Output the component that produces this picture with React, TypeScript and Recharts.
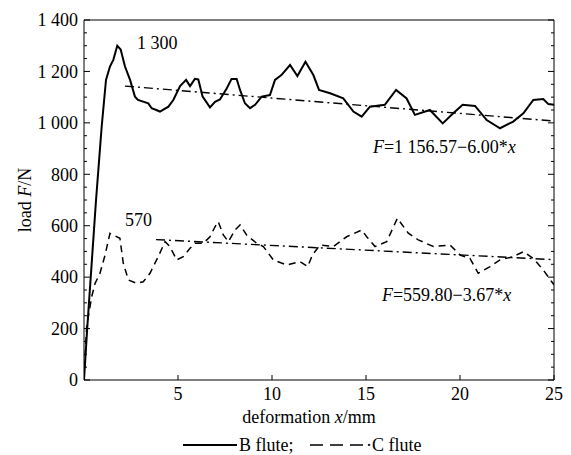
import React from "react";
import { LineChart, Line, XAxis, YAxis, ReferenceDot, Label } from "recharts";

// ── Fonts / sizes ─────────────────────────────────────────────────────────────
const FONT = "'Liberation Serif', 'Times New Roman', serif";
const FS = 18;

// ── Axis ticks ────────────────────────────────────────────────────────────────
const xTicks = [5, 10, 15, 20, 25];
const yTicks = Array.from({ length: 29 }, (_, i) => i * 50);

// ── Series ────────────────────────────────────────────────────────────────────
const bFlute = [
  { x: 0, load: 0 }, { x: 0.17, load: 200 }, { x: 0.64, load: 700 }, { x: 0.94, load: 985 },
  { x: 1.17, load: 1167 }, { x: 1.38, load: 1219 }, { x: 1.56, load: 1245 }, { x: 1.77, load: 1300 },
  { x: 1.95, load: 1285 }, { x: 2.18, load: 1219 }, { x: 2.45, load: 1167 }, { x: 2.71, load: 1102 },
  { x: 2.87, load: 1089 }, { x: 3.42, load: 1076 }, { x: 3.6, load: 1057 }, { x: 4.04, load: 1044 },
  { x: 4.49, load: 1063 }, { x: 4.75, load: 1089 }, { x: 5.11, load: 1143 }, { x: 5.43, load: 1167 },
  { x: 5.64, load: 1143 }, { x: 5.9, load: 1171 }, { x: 6.08, load: 1169 }, { x: 6.31, load: 1102 },
  { x: 6.7, load: 1060 }, { x: 6.97, load: 1082 }, { x: 7.23, load: 1091 }, { x: 7.59, load: 1134 },
  { x: 7.85, load: 1171 }, { x: 8.12, load: 1171 }, { x: 8.3, load: 1128 }, { x: 8.56, load: 1076 },
  { x: 8.83, load: 1057 }, { x: 9.1, load: 1070 }, { x: 9.45, load: 1102 }, { x: 9.89, load: 1108 },
  { x: 10.16, load: 1167 }, { x: 10.5, load: 1186 }, { x: 10.96, load: 1225 }, { x: 11.35, load: 1182 },
  { x: 11.78, load: 1238 }, { x: 12.2, load: 1186 }, { x: 12.5, load: 1128 }, { x: 13.09, load: 1115 },
  { x: 13.79, load: 1095 }, { x: 14.33, load: 1044 }, { x: 14.77, load: 1024 }, { x: 15.21, load: 1063 },
  { x: 16.0, load: 1070 }, { x: 16.6, load: 1128 }, { x: 17.16, load: 1095 }, { x: 17.6, load: 1031 },
  { x: 18.4, load: 1050 }, { x: 19.08, load: 998 }, { x: 19.64, load: 1037 }, { x: 20.14, load: 1070 },
  { x: 20.8, load: 1066 }, { x: 21.42, load: 1011 }, { x: 22.13, load: 979 }, { x: 22.83, load: 1005 },
  { x: 23.37, load: 1037 }, { x: 23.9, load: 1089 }, { x: 24.43, load: 1093 }, { x: 24.7, load: 1073 },
  { x: 25, load: 1070 },
];

const cFlute = [
  { x: 0, load: 0 }, { x: 0.14, load: 207 }, { x: 0.41, load: 324 }, { x: 0.59, load: 376 },
  { x: 0.85, load: 415 }, { x: 1.12, load: 486 }, { x: 1.38, load: 570 }, { x: 1.56, load: 564 },
  { x: 1.91, load: 551 }, { x: 2.09, load: 454 }, { x: 2.36, load: 389 }, { x: 2.8, load: 376 },
  { x: 3.15, load: 382 }, { x: 3.51, load: 415 }, { x: 3.95, load: 480 }, { x: 4.31, load: 538 },
  { x: 4.57, load: 519 }, { x: 4.93, load: 467 }, { x: 5.28, load: 480 }, { x: 5.64, load: 512 },
  { x: 5.9, load: 532 }, { x: 6.35, load: 532 }, { x: 6.7, load: 557 }, { x: 6.97, load: 596 },
  { x: 7.14, load: 616 }, { x: 7.41, load: 564 }, { x: 7.68, load: 538 }, { x: 8.03, load: 583 },
  { x: 8.3, load: 603 }, { x: 8.65, load: 564 }, { x: 9.18, load: 532 }, { x: 9.54, load: 519 },
  { x: 10.07, load: 467 }, { x: 10.78, load: 447 }, { x: 11.49, load: 460 }, { x: 11.9, load: 441 },
  { x: 12.15, load: 486 }, { x: 12.55, load: 525 }, { x: 13.26, load: 519 }, { x: 13.97, load: 557 },
  { x: 14.77, load: 583 }, { x: 15.04, load: 557 }, { x: 15.48, load: 519 }, { x: 16.1, load: 538 },
  { x: 16.67, load: 629 }, { x: 17.25, load: 571 }, { x: 17.78, load: 545 }, { x: 18.58, load: 519 },
  { x: 19.47, load: 525 }, { x: 20.0, load: 486 }, { x: 20.53, load: 473 }, { x: 20.97, load: 415 },
  { x: 21.6, load: 441 }, { x: 22.13, load: 467 }, { x: 22.84, load: 480 }, { x: 23.37, load: 499 },
  { x: 23.9, load: 473 }, { x: 24.43, load: 428 }, { x: 24.88, load: 382 }, { x: 25, load: 370 },
];

// fitted trend lines, endpoints as drawn
const bTrend = [{ x: 2.18, load: 1143 }, { x: 25, load: 1007 }];
const cTrend = [{ x: 3.83, load: 546 }, { x: 25, load: 468 }];

const fmt = (v: number) =>
  v >= 1000 ? `${Math.floor(v / 1000)} ${String(v % 1000).padStart(3, "0")}` : String(v);

// ── Custom ticks (ticks point inward) ─────────────────────────────────────────
function LeftTick({ x, y, payload }: any) {
  const v = payload.value;
  const major = v % 200 === 0;
  return (
    <g>
      <line x1={x} y1={y} x2={x + (major ? 6 : 3)} y2={y} stroke="#000" />
      {major && (
        <text x={x - 6} y={y} dy="0.35em" textAnchor="end" fontFamily={FONT} fontSize={FS} fill="#000">
          {fmt(v)}
        </text>
      )}
    </g>
  );
}

function RightTick({ x, y, payload }: any) {
  const major = payload.value % 200 === 0;
  return <line x1={x} y1={y} x2={x - (major ? 6 : 3)} y2={y} stroke="#000" />;
}

function BottomTick({ x, y, payload }: any) {
  return (
    <g>
      <line x1={x} y1={y} x2={x} y2={y - 5} stroke="#000" />
      <text x={x} y={y + 20} textAnchor="middle" fontFamily={FONT} fontSize={FS} fill="#000">
        {payload.value}
      </text>
    </g>
  );
}

function XTitle({ viewBox }: any) {
  return (
    <text x={viewBox.x + viewBox.width / 2 - 10} y={viewBox.y + 43} textAnchor="middle" fontFamily={FONT} fontSize={FS} fill="#000">
      deformation <tspan fontStyle="italic">x</tspan>/mm
    </text>
  );
}

function YTitle({ viewBox }: any) {
  const cx = 25;
  const cy = viewBox.y + viewBox.height / 2;
  return (
    <text x={cx} y={cy} dy="0.35em" textAnchor="middle" transform={`rotate(-90, ${cx}, ${cy})`} fontFamily={FONT} fontSize={FS} fill="#000">
      load <tspan fontStyle="italic">F</tspan>/N
    </text>
  );
}

const annot = (content: React.ReactNode) => ({ viewBox }: any) => (
  <text x={viewBox.x} y={viewBox.y} dy="0.35em" fontFamily={FONT} fontSize={FS} fill="#000">
    {content}
  </text>
);

export default function App() {
  return (
    <div style={{ position: "absolute", left: 0, top: 0, width: 571, height: 455, background: "#fff" }}>
      <LineChart width={571} height={455} margin={{ top: 0, right: 0, bottom: 0, left: 0 }}>
        <XAxis
          xAxisId="x" dataKey="x" type="number" domain={[0, 25]} ticks={xTicks} interval={0}
          height={75} tickSize={0} tickMargin={0} tickLine={false}
          axisLine={{ stroke: "#000" }} tick={<BottomTick />} allowDataOverflow
        >
          <Label content={XTitle} />
        </XAxis>
        <XAxis
          xAxisId="top" orientation="top" type="number" domain={[0, 25]} height={20}
          tick={false} tickLine={false} axisLine={{ stroke: "#000" }}
        />
        <YAxis
          yAxisId="y" type="number" domain={[0, 1400]} ticks={yTicks} interval={0}
          width={84} tickSize={0} tickMargin={0} tickLine={false}
          axisLine={{ stroke: "#000" }} tick={<LeftTick />} allowDataOverflow
        >
          <Label content={YTitle} />
        </YAxis>
        <YAxis
          yAxisId="r" orientation="right" type="number" domain={[0, 1400]} ticks={yTicks} interval={0}
          width={17} tickSize={0} tickMargin={0} tickLine={false}
          axisLine={{ stroke: "#000" }} tick={<RightTick />} allowDataOverflow
        />

        <Line xAxisId="x" yAxisId="y" data={bTrend} dataKey="load" type="linear" stroke="#000"
          strokeWidth={1.4} strokeDasharray="9 4 2 4" dot={false} isAnimationActive={false} />
        <Line xAxisId="x" yAxisId="y" data={cTrend} dataKey="load" type="linear" stroke="#000"
          strokeWidth={1.4} strokeDasharray="9 4 2 4" dot={false} isAnimationActive={false} />
        <Line xAxisId="x" yAxisId="y" data={bFlute} dataKey="load" type="linear" stroke="#000"
          strokeWidth={2} dot={false} isAnimationActive={false} />
        <Line xAxisId="x" yAxisId="y" data={cFlute} dataKey="load" type="linear" stroke="#000"
          strokeWidth={1.5} strokeDasharray="7 5" dot={false} isAnimationActive={false} />

        <ReferenceDot xAxisId="x" yAxisId="y" x={2.82} y={1311} r={0} stroke="none" fill="none"
          label={{ content: annot("1 300") }} />
        <ReferenceDot xAxisId="x" yAxisId="y" x={2.18} y={622} r={0} stroke="none" fill="none"
          label={{ content: annot("570") }} />
        <ReferenceDot xAxisId="x" yAxisId="y" x={15.37} y={906} r={0} stroke="none" fill="none"
          label={{ content: annot(<><tspan fontStyle="italic">F</tspan>=1 156.57−6.00*<tspan fontStyle="italic">x</tspan></>) }} />
        <ReferenceDot xAxisId="x" yAxisId="y" x={15.85} y={331} r={0} stroke="none" fill="none"
          label={{ content: annot(<><tspan fontStyle="italic">F</tspan>=559.80−3.67*<tspan fontStyle="italic">x</tspan></>) }} />
      </LineChart>

      {/* legend */}
      <svg width={571} height={24} style={{ position: "absolute", left: 0, top: 433 }}>
        <line x1={183} y1={12} x2={237} y2={12} stroke="#000" strokeWidth={1.8} />
        <text x={239} y={18} fontFamily={FONT} fontSize={FS} fill="#000">B flute;</text>
        <line x1={310} y1={12} x2={363} y2={12} stroke="#000" strokeWidth={1.5} strokeDasharray="13 7" />
        <text x={366} y={18} fontFamily={FONT} fontSize={FS} fill="#000">·C flute</text>
      </svg>
    </div>
  );
}
